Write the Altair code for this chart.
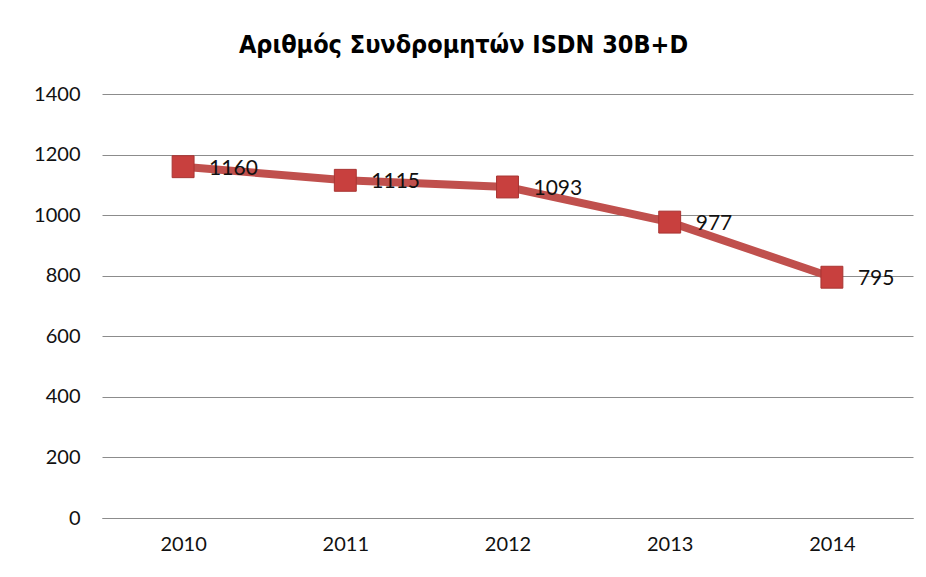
import altair as alt
import pandas as pd

years = ["2010", "2011", "2012", "2013", "2014"]
subscribers = [1160, 1115, 1093, 977, 795]
title_text = "Αριθμός Συνδρομητών ISDN 30B+D"
y_ticks = [0, 200, 400, 600, 800, 1000, 1200, 1400]

df = pd.DataFrame({"year": years, "value": subscribers})

FONT = "Lato, 'Open Sans', sans-serif"
TFONT = "'DejaVu Sans Condensed', 'Open Sans', sans-serif"

x = alt.X("year:N", scale=alt.Scale(type="point", padding=0.5),
          axis=alt.Axis(title=None, labelAngle=0, labelFontSize=20, labelPadding=16,
                        ticks=False, domainColor="#8c8c8c", grid=False))
y = alt.Y("value:Q", scale=alt.Scale(domain=[0, 1400], nice=False),
          axis=alt.Axis(title=None, values=y_ticks, format="d", labelFontSize=20, labelPadding=22,
                        ticks=False, domain=False, gridColor="#8c8c8c", gridWidth=1))

base = alt.Chart(df).encode(x=x, y=y)

line = base.mark_line(color="#C0504D", strokeWidth=8)
pts = base.mark_point(shape="square", filled=True, size=480, color="#C8403E",
                      opacity=1, stroke="#A83432", strokeWidth=1)
labels = base.mark_text(align="left", baseline="middle", dx=26, dy=2,
                        fontSize=21, font=FONT, color="#111111").encode(text="value:Q")

chart = (line + pts + labels).properties(
    width=811, height=424,
    title=alt.TitleParams(title_text, fontSize=25, font=TFONT, fontWeight="bold",
                          color="#000000", anchor="middle", offset=26, dx=-44),
    autosize=alt.AutoSizeParams(type="none"),
    padding={"left": 94, "top": 86, "right": 5, "bottom": 50},
).configure_view(stroke=None).configure_axis(labelFont=FONT, labelColor="#111111")

chart.save("out.html", embed_options={"renderer": "svg", "actions": False})
